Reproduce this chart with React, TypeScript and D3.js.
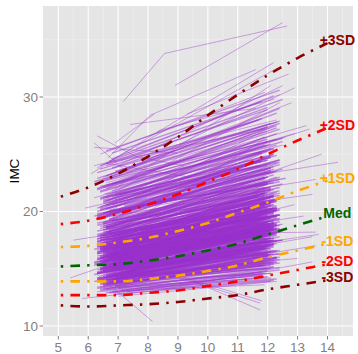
import React from 'react';
import * as d3 from 'd3';

// ---- spaghetti (core) lines: one per child ----
const startAge = [
  6.4,6.6,6.3,6.8,6.5,7.0,6.4,6.7,6.9,6.3,6.5,6.6,7.2,6.4,6.8,6.3,6.7,6.5,6.9,6.4,
  6.7,6.3,6.5,6.9,6.4,6.6,6.8,7.1,6.3,6.5,6.7,6.4,6.6,6.9,6.3,7.3,6.5,6.8,6.4,6.6,
  6.3,6.8,6.5,6.4,7.0,6.6,6.7,6.3,6.9,6.5,6.4,7.2,6.6,6.8,6.5,6.3,6.7,6.4,7.4,6.6,
  6.5,6.9,6.4,6.7,6.3,6.6,7.1,6.5,6.8,6.4,6.3,6.7,6.9,6.5,6.6,7.0,6.4,6.3,6.8,6.5,
  6.6,6.4,6.8,6.5,6.3,7.2,6.7,6.5,6.4,6.9,6.6,6.3,6.5,7.0,6.8,6.4,6.7,6.6,6.3,6.9,
  6.4,6.7,6.3,6.9,6.5,6.6,6.8,6.4,7.3,6.5,6.3,6.7,6.6,6.5,7.1,6.4,6.9,6.3,6.8,6.6,
  6.8,6.5,6.6,6.3,7.0,6.4,6.7,6.9,6.5,6.3,6.6,6.8,6.4,7.2,6.5,6.7,6.3,6.6,6.9,6.4,
  6.5,6.3,6.9,6.7,6.4,6.6,7.0,6.5,6.3,6.8,6.6,6.4,6.7,6.5,6.9,7.3,6.3,6.6,6.4,6.8,
  6.7,6.4,6.6,6.5,6.9,6.3,6.8,7.1,6.5,6.6,6.4,6.7,6.3,6.9,6.5,6.6,7.0,6.4,6.8,6.3,
  6.3,6.6,6.8,6.4,6.5,6.9,6.3,6.7,7.2,6.6,6.5,6.4,6.8,6.3,6.6,7.0,6.5,6.7,6.4,6.9,
  6.6,6.3,6.7,6.5,6.8,6.4,6.9,6.6,6.3,7.1,6.5,6.7,6.4,6.6,7.3,6.5,6.8,6.3,6.6,6.9,
  6.4,6.8,6.5,6.3,6.7,7.0,6.6,6.4,6.9,6.5,6.3,6.8,6.6,6.4,7.2,6.7,6.5,6.9,6.3,6.6,
  6.5,6.3,6.7,6.4,6.6,6.9,6.2,6.8,6.5,7.5,6.4,6.6,6.3,7.0,6.7,6.5,6.9,6.4,6.6,6.2,
  6.6,6.4,6.9,6.3,6.7,6.5,7.8,6.4,6.8,6.3,6.6,6.5,6.2,6.7,6.9,6.4,6.6,7.1,6.5,6.3,
  6.2,6.7,6.5,6.6,6.4,6.8,6.3,6.9,7.6,6.5,6.4,6.7,6.6,6.3,6.8,6.5,6.2,6.6,6.9,6.4,
  6.7,6.5,6.3,6.8,6.4,6.6,6.9,6.2,6.5,7.3,6.7,6.4,6.6,6.8,6.3,6.5,6.9,6.4,6.7,8.0,
  6.3,6.6,6.8,6.4,7.2,6.5,6.7,6.3,6.9,6.6,6.4,6.2,6.5,6.8,6.7,6.4,6.6,6.3,7.7,6.5,
  6.6,6.4,6.5,6.7,6.3,6.9,6.2,6.6,6.4,6.8,6.5,6.7,7.4,6.3,6.6,6.5,6.4,6.9,6.7,6.3,
  6.4,6.7,6.3,6.6,6.9,6.5,7.1,6.4,6.8,6.3,6.6,7.3,6.5,6.7,6.4,6.9,6.2,6.6,6.8,6.5,
  6.6,6.3,6.8,6.5,6.4,7.0,6.7,6.3,6.9,6.5,6.6,6.4,7.2,6.8,6.3,6.7,6.5,6.9,6.4,6.6,
  6.5,6.8,6.3,6.6,7.0,6.4,6.7,6.9,6.3,6.5,6.6,7.2,6.4,6.8,6.5,6.3,7.4,6.6,6.9,6.4,
];
const startBmi = [
  15.1,16.4,14.2,17.8,15.6,13.9,16.9,19.3,15.3,14.7,18.2,16.1,15.8,20.4,14.5,17.2,15.0,16.7,21.6,14.9,
  16.2,15.4,18.9,14.1,17.5,15.9,13.7,16.6,19.8,15.2,14.4,17.0,22.3,15.7,16.3,14.8,18.4,15.5,16.8,20.9,
  14.6,17.4,15.0,16.0,19.0,13.8,15.9,17.9,14.3,16.5,21.1,15.4,18.6,14.0,16.2,15.6,20.1,17.1,14.7,15.8,
  16.9,14.2,18.0,15.3,23.4,16.4,14.9,17.6,15.1,19.5,16.1,13.9,17.3,15.7,22.0,14.5,16.7,18.8,15.0,16.0,
  15.5,17.7,14.4,20.7,16.3,15.2,18.3,14.8,16.6,15.9,24.2,14.1,17.2,15.4,19.2,16.8,14.6,18.1,15.8,21.4,
  16.5,14.9,17.0,15.6,13.6,18.5,16.2,15.0,20.0,14.3,17.8,16.0,15.3,22.8,14.7,16.9,15.1,19.7,17.4,14.0,
  15.9,18.7,14.5,16.4,15.2,21.8,17.1,14.8,16.1,19.4,15.7,13.8,17.5,16.6,15.0,23.0,14.2,18.2,16.3,15.5,
  17.9,14.6,16.8,15.4,20.3,14.0,16.0,18.6,15.8,17.3,14.4,21.2,16.2,15.1,19.1,14.9,17.6,16.5,15.6,25.1,
  14.3,16.7,15.3,18.4,17.0,14.7,20.6,15.9,16.4,13.7,17.8,15.2,22.5,16.1,14.5,19.6,15.7,17.2,14.1,16.9,
  18.0,15.4,16.6,14.8,21.0,15.0,17.4,16.3,14.2,19.9,15.8,16.0,24.6,14.6,17.7,15.5,18.9,16.8,14.9,15.2,
  16.2,19.3,14.4,17.1,15.6,22.2,16.5,14.0,18.3,15.1,16.9,20.8,15.3,17.5,14.7,16.1,23.8,15.9,18.6,14.3,
  17.0,15.7,16.4,19.0,14.8,15.2,21.5,16.7,14.5,18.1,15.4,17.8,16.0,20.2,14.1,15.8,17.3,16.6,19.4,15.0,
  15.6,17.3,16.0,18.5,14.9,16.8,19.6,15.3,17.9,16.4,15.0,20.5,16.6,14.6,18.0,17.1,15.8,21.7,16.2,15.4,
  18.8,16.1,15.2,17.6,20.0,14.8,16.9,15.7,19.2,17.4,16.3,15.1,22.6,16.7,18.3,15.9,14.4,17.0,19.9,16.5,
  15.5,18.1,16.8,14.7,17.2,21.3,15.9,16.4,18.9,15.3,17.7,16.0,20.2,14.9,16.6,19.0,15.6,17.5,23.5,16.1,
  17.8,15.4,19.5,16.3,15.0,18.6,16.9,14.5,20.9,17.1,15.8,16.5,18.2,15.2,21.9,16.7,17.4,15.7,19.3,16.0,
  16.4,20.6,15.1,17.9,16.2,14.8,18.4,17.0,15.5,19.7,16.8,15.3,22.1,17.6,16.0,18.7,15.4,20.3,16.6,17.3,
  15.8,17.5,19.1,16.1,14.6,18.0,16.7,21.2,15.9,17.2,16.3,19.8,15.0,16.9,18.5,15.6,24.0,17.7,16.4,20.0,
  13.2,13.8,14.0,12.9,13.5,14.2,13.1,13.7,13.9,13.3,14.1,13.0,13.6,14.3,13.4,12.8,13.9,13.2,14.0,13.5,
  13.6,14.1,13.0,13.8,14.4,13.3,12.9,14.0,13.5,13.9,14.2,13.1,13.7,14.5,13.4,13.8,13.2,14.1,13.6,14.3,
  20.8,22.4,19.6,23.1,21.5,20.1,24.4,19.9,22.0,21.2,25.3,20.5,23.7,21.8,19.8,22.9,20.3,24.0,21.0,22.6,
];
const endAge = [
  12.1,11.9,12.3,12.0,11.8,12.2,12.4,11.7,12.1,12.0,11.9,12.3,12.2,11.8,12.0,12.1,12.4,11.9,12.2,12.0,
  11.8,12.2,12.0,12.3,11.9,12.1,11.7,12.4,12.0,12.2,11.8,12.1,12.3,11.9,12.0,12.2,11.7,12.1,12.4,11.9,
  12.0,12.3,11.9,12.1,12.2,11.8,12.4,12.0,11.7,12.2,12.1,11.9,12.3,12.0,11.8,12.1,12.2,11.9,12.4,12.0,
  12.2,11.8,12.1,12.0,12.3,11.9,12.2,12.4,11.7,12.1,12.0,11.8,12.3,12.2,11.9,12.0,12.1,12.4,11.8,12.2,
  11.9,12.1,12.3,11.8,12.0,12.2,11.7,12.1,12.4,11.9,12.0,12.3,12.2,11.8,12.1,12.0,11.9,12.3,12.2,11.7,
  12.3,12.0,11.8,12.2,12.1,11.9,12.4,12.0,12.2,11.7,12.1,12.3,11.9,12.0,12.2,11.8,12.1,12.4,12.0,11.9,
  12.1,11.9,12.2,12.4,11.8,12.0,12.3,12.1,11.9,12.2,12.0,11.7,12.3,12.1,11.8,12.4,12.0,12.2,11.9,12.1,
  12.0,12.2,11.9,12.1,12.3,11.8,12.0,12.4,12.2,11.9,12.1,12.0,11.7,12.3,12.2,11.9,12.1,12.0,12.4,11.8,
  12.2,12.0,12.3,11.9,12.1,12.4,11.8,12.0,12.2,12.1,11.9,12.3,12.0,11.7,12.2,12.1,11.9,12.4,12.0,12.2,
  11.9,12.3,12.1,12.0,11.8,12.2,12.4,11.9,12.1,12.0,12.3,11.8,12.2,12.1,11.9,12.0,12.4,12.2,11.7,12.1,
  12.1,12.0,11.8,12.3,12.2,11.9,12.1,12.4,12.0,11.8,12.2,12.1,11.9,12.3,12.0,12.2,11.7,12.1,12.0,12.4,
  12.0,12.2,12.4,11.9,12.1,12.3,11.8,12.0,12.2,12.1,11.9,12.0,12.3,12.2,11.8,12.1,12.0,12.4,11.9,12.2,
  12.2,12.0,12.4,11.9,12.1,12.3,12.0,12.5,11.8,12.2,12.1,12.4,12.0,12.3,11.9,12.2,12.1,12.5,12.0,12.3,
  12.1,12.3,11.9,12.2,12.4,12.0,12.1,12.3,12.5,11.8,12.2,12.0,12.4,12.1,12.3,11.9,12.2,12.0,12.6,12.1,
  12.3,12.1,12.2,12.0,12.4,11.9,12.3,12.1,12.2,12.5,12.0,12.3,12.1,11.8,12.2,12.4,12.0,12.3,12.1,12.2,
  12.0,12.4,12.1,12.3,12.2,11.9,12.4,12.1,12.0,12.3,12.5,12.2,11.9,12.1,12.3,12.0,12.2,12.4,12.1,12.3,
  12.2,12.1,12.3,12.0,12.4,12.2,11.9,12.3,12.1,12.5,12.0,12.2,12.3,12.1,11.8,12.4,12.2,12.0,12.3,12.1,
  12.4,12.2,12.0,12.3,12.1,12.2,12.4,11.9,12.3,12.1,12.2,12.0,12.5,12.3,12.1,12.2,12.0,12.3,12.1,12.4,
  12.0,12.3,11.9,12.2,12.1,12.4,11.8,12.0,12.3,12.1,12.2,11.9,12.4,12.0,12.2,12.1,12.3,11.8,12.2,12.0,
  12.2,12.0,12.4,11.9,12.3,12.1,12.0,12.2,11.8,12.4,12.1,12.3,12.0,12.2,11.9,12.1,12.3,12.0,12.4,12.2,
  12.1,12.4,12.0,12.3,12.2,11.9,12.5,12.1,12.3,12.0,12.4,12.2,11.8,12.3,12.1,12.4,12.2,12.0,12.3,12.5,
];
const endBmi = [
  18.3,18.5,16.0,22.4,19.5,15.1,19.7,24.4,16.2,17.3,21.6,20.3,17.5,25.2,17.5,19.4,17.5,22.0,25.5,16.3,
  18.9,19.0,23.0,15.6,19.5,20.3,16.0,19.7,22.4,16.3,17.7,22.0,26.3,18.1,17.9,18.6,21.3,17.4,21.1,26.5,
  16.6,20.9,18.9,17.3,23.7,15.7,18.5,20.9,16.5,20.6,24.7,16.4,23.5,16.8,19.5,17.7,22.5,21.6,16.3,19.5,
  20.3,16.8,20.2,19.6,27.8,18.2,18.0,23.0,17.1,23.4,19.0,15.4,20.9,18.9,27.2,16.8,17.9,22.8,18.5,18.7,
  18.0,19.6,17.4,24.4,20.3,17.5,21.6,16.5,19.4,20.5,27.3,16.5,21.4,16.8,21.9,20.4,16.7,23.0,19.0,24.0,
  20.3,17.1,18.6,19.0,15.3,23.0,19.1,17.0,25.0,17.0,21.0,20.1,17.7,26.3,16.6,19.5,18.7,24.1,19.7,16.8,
  18.0,22.6,17.0,21.1,18.2,25.8,18.9,17.7,19.4,21.9,20.0,16.0,20.1,18.1,18.7,29.0,16.1,21.3,18.7,19.4,
  20.3,17.7,20.4,17.4,24.9,16.5,17.4,22.1,18.6,21.7,16.1,24.5,18.5,18.9,23.2,16.9,20.6,18.3,18.2,29.6,
  17.2,19.1,18.8,21.4,21.8,16.3,24.4,18.1,20.3,15.5,20.5,18.6,27.4,18.1,17.1,24.8,18.8,19.7,16.3,20.9,
  21.6,18.0,18.7,18.1,24.0,19.0,20.2,20.0,15.8,24.1,18.1,17.9,30.1,17.0,21.6,18.5,21.4,21.4,16.7,18.1,
  18.4,23.7,17.1,20.3,19.2,25.3,20.8,16.0,20.9,18.5,18.6,25.5,17.4,21.0,17.6,20.0,28.0,18.4,22.4,16.6,
  20.1,18.5,20.1,21.3,16.8,19.7,25.1,18.3,17.7,22.1,17.8,20.7,20.1,23.5,16.7,17.7,22.1,19.3,22.9,18.4,
  18.6,21.5,18.5,22.1,16.7,21.7,23.0,17.5,20.6,20.3,17.1,24.5,19.9,17.2,23.0,19.0,19.5,26.1,19.1,18.5,
  22.1,18.1,19.3,21.4,22.6,17.7,18.5,20.2,22.4,19.8,19.9,17.9,27.7,20.7,20.5,19.3,16.9,21.7,22.9,18.3,
  19.4,20.7,19.9,17.0,21.6,24.8,17.9,21.2,21.6,18.3,19.6,19.7,24.8,17.3,19.8,24.3,18.4,19.6,27.7,19.7,
  20.7,18.8,23.5,18.5,18.8,21.1,21.2,17.2,24.5,18.8,18.9,20.6,21.0,18.7,27.3,19.0,21.3,18.3,23.8,19.0,
  21.0,23.8,17.5,20.9,18.3,18.4,22.8,19.5,18.8,23.7,19.0,19.2,25.8,20.5,20.2,21.8,18.1,25.3,18.4,20.8,
  18.4,21.3,22.6,20.4,17.5,20.3,19.7,25.8,19.6,19.2,21.1,23.0,17.5,20.3,22.6,18.4,28.9,20.1,20.0,24.5,
  14.8,15.9,15.3,14.0,16.2,15.1,14.5,15.0,16.6,14.2,15.7,14.6,15.5,16.9,15.2,13.9,16.0,14.4,17.1,15.6,
  15.4,16.3,14.9,16.8,15.6,15.0,14.3,17.2,14.7,15.8,16.5,14.1,16.0,17.5,15.3,14.6,15.9,16.1,17.8,15.5,
  25.9,27.2,23.4,28.6,25.0,24.7,29.8,24.2,27.5,26.1,30.6,23.9,28.1,26.8,23.6,27.9,25.5,29.1,24.3,26.4,
];

// ---- sparse / outlying trajectories: [age, bmi, age, bmi, ...] ----
const extraLines: number[][] = [
  [7.17,29.6, 8.55,33.8, 12.65,36.2],
  [8.9,31.0, 12.5,36.5],
  [6.3,26.6, 7.6,24.8, 9.2,24.0],
  [6.2,25.6, 9.0,25.1],
  [6.67,24.7, 8.07,28.4, 11.6,32.4],
  [6.1,23.3, 8.4,27.1, 12.2,29.8],
  [7.0,24.0, 12.5,31.0],
  [6.5,23.0, 12.8,29.5],
  [6.9,26.0, 8.2,28.5],
  [7.4,27.6, 11.6,29.0],
  [8.3,26.9, 12.2,33.0],
  [6.6,22.5, 13.3,27.5],
  [7.2,23.5, 12.9,30.8],
  [9.3,28.5, 12.7,32.0],
  [7.5,21.5, 14.35,24.3],
  [7.0,20.0, 13.6,22.8],
  [6.8,19.0, 13.5,21.5],
  [7.6,18.0, 13.6,18.2],
  [6.6,17.0, 13.2,19.6],
  [8.0,17.5, 12.9,20.6],
  [7.8,19.6, 13.8,25.0],
  [6.3,22.0, 12.9,26.8],
  [6.5,21.5, 13.4,27.2],
  [5.4,14.2, 8.5,17.0],
  [5.8,12.4, 10.0,13.6],
  [6.3,14.5, 8.15,10.4],
  [9.0,14.5, 11.75,11.4],
  [8.6,14.6, 11.75,12.0],
  [9.5,14.0, 11.8,12.2],
  [6.3,13.0, 11.9,13.6],
  [7.0,12.6, 12.3,13.9],
  [6.5,13.4, 12.1,14.6],
  [8.5,13.2, 13.5,15.6],
  [7.2,15.5, 13.7,18.0],
  [8.8,15.0, 13.6,17.0],
  [9.5,16.0, 13.5,17.8],
  [6.8,14.5, 13.0,15.9],
  [5.5,17.5, 11.8,20.0],
  [5.9,20.3, 12.0,24.0],
  [6.2,24.0, 12.3,28.0],
  [6.4,21.0, 12.4,29.5],
  [6.9,22.0, 12.1,31.0],
  [6.3,19.5, 12.2,27.5],
  [7.1,18.5, 12.0,26.5],
  [6.2,26.0, 7.3,23.4, 12.0,27.0],
  [6.4,25.0, 11.9,30.4],
  [6.3,23.8, 12.3,32.5],
  [7.6,25.5, 12.4,30.2],
  [6.6,24.2, 9.4,23.0],
  [7.9,22.4, 12.6,26.5],
  [6.2,21.2, 12.5,25.8],
];

// ---- reference curves (BMI-for-age z-scores) ----
const refAges = [5.083, 6, 7, 8, 9, 10, 11, 12, 13, 14];
const refM3 = [11.8, 11.7, 11.8, 11.9, 12.1, 12.4, 12.7, 13.2, 13.6, 14.0];
const refM2 = [12.7, 12.7, 12.7, 12.9, 13.1, 13.5, 13.9, 14.4, 14.9, 15.4];
const refM1 = [13.9, 13.9, 13.9, 14.1, 14.4, 14.8, 15.3, 16.0, 16.6, 17.2];
const refMed = [15.2, 15.3, 15.4, 15.7, 16.1, 16.6, 17.2, 18.0, 18.8, 19.6];
const refP1 = [16.9, 17.0, 17.3, 17.7, 18.3, 19.0, 19.9, 20.8, 21.8, 22.7];
const refP2 = [18.9, 19.2, 19.8, 20.6, 21.5, 22.6, 23.7, 25.0, 26.2, 27.3];
const refP3 = [21.3, 22.1, 23.3, 24.8, 26.5, 28.4, 30.2, 31.9, 33.4, 34.7];
const refNames = ['-3SD', '-2SD', '-1SD', 'Med', '+1SD', '+2SD', '+3SD'];
const refColors = ['#8B0000', '#FF0000', '#FFA500', '#006400', '#FFA500', '#FF0000', '#8B0000'];

const xTicks = [5, 6, 7, 8, 9, 10, 11, 12, 13, 14];
const xMinor = [5.5, 6.5, 7.5, 8.5, 9.5, 10.5, 11.5, 12.5, 13.5, 14.5];
const yTicks = [10, 20, 30];
const yMinor = [15, 25, 35];
const yTitle = 'IMC';

export default function App() {
  const W = 358, H = 354;
  const L = 43, R = 353, T = 6, B = 336;
  const x = d3.scaleLinear().domain([4.488, 14.853]).range([L, R]);
  const y = d3.scaleLinear().domain([9.127, 37.948]).range([B, T]);

  const line = d3.line<[number, number]>().x(d => x(d[0])).y(d => y(d[1]));
  const refLine = d3.line<[number, number]>().x(d => x(d[0])).y(d => y(d[1])).curve(d3.curveMonotoneX);

  const core = startAge.map((a, i) => [[a, startBmi[i]], [endAge[i], endBmi[i]]] as [number, number][]);
  const extras = extraLines.map(arr => {
    const pts: [number, number][] = [];
    for (let k = 0; k < arr.length; k += 2) pts.push([arr[k], arr[k + 1]]);
    return pts;
  });
  const refs = [refM3, refM2, refM1, refMed, refP1, refP2, refP3];
  const labelAge = 14.33;

  return (
    <svg width={W} height={H} style={{ position: 'absolute', left: 0, top: 0, background: '#fff' }}
      fontFamily="'Liberation Sans', Arial, Helvetica, sans-serif">
      <defs>
        <clipPath id="panel"><rect x={L} y={T} width={R - L} height={B - T} /></clipPath>
      </defs>
      <rect x={L} y={T} width={R - L} height={B - T} fill="#E5E5E5" />
      {xMinor.map(v => <line key={'xm' + v} x1={x(v)} x2={x(v)} y1={T} y2={B} stroke="#F2F2F2" strokeWidth={0.6} />)}
      {yMinor.map(v => <line key={'ym' + v} x1={L} x2={R} y1={y(v)} y2={y(v)} stroke="#F2F2F2" strokeWidth={0.6} />)}
      {xTicks.map(v => <line key={'xg' + v} x1={x(v)} x2={x(v)} y1={T} y2={B} stroke="#FFFFFF" strokeWidth={1.1} />)}
      {yTicks.map(v => <line key={'yg' + v} x1={L} x2={R} y1={y(v)} y2={y(v)} stroke="#FFFFFF" strokeWidth={1.1} />)}
      <g clipPath="url(#panel)" fill="none" stroke="#9A32CD">
        {core.map((p, i) => <path key={'c' + i} d={line(p) || ''} strokeOpacity={0.5} strokeWidth={1.4} />)}
        {extras.map((p, i) => <path key={'e' + i} d={line(p) || ''} strokeOpacity={0.42} strokeWidth={1} />)}
      </g>
      <g clipPath="url(#panel)" fill="none" strokeWidth={2.6} strokeDasharray="2.4 7.2 9.6 7.2">
        {refs.map((vals, i) => (
          <path key={'r' + i} d={refLine(refAges.map((a, k) => [a, vals[k]] as [number, number])) || ''}
            stroke={refColors[i]} />
        ))}
      </g>
      {refs.map((vals, i) => (
        <text key={'l' + i} x={x(labelAge)} y={y(vals[vals.length - 1]) - 3} textAnchor="middle"
          dominantBaseline="central" fontSize={14} fontWeight="bold" fill={refColors[i]}>{refNames[i]}</text>
      ))}
      {xTicks.map(v => (
        <g key={'xt' + v}>
          <line x1={x(v)} x2={x(v)} y1={B} y2={B + 3.5} stroke="#7F7F7F" strokeWidth={1} />
          <text x={x(v)} y={351.5} textAnchor="middle" fontSize={13.5} fill="#7F7F7F">{v}</text>
        </g>
      ))}
      {yTicks.map(v => (
        <g key={'yt' + v}>
          <line x1={L - 3.5} x2={L} y1={y(v)} y2={y(v)} stroke="#7F7F7F" strokeWidth={1} />
          <text x={38} y={y(v)} dy="0.35em" textAnchor="end" fontSize={13.5} fill="#7F7F7F">{v}</text>
        </g>
      ))}
      <text transform={`translate(14,${(T + B) / 2}) rotate(-90)`} textAnchor="middle" dy="0.35em"
        fontSize={13.5} fill="#000">{yTitle}</text>
    </svg>
  );
}
